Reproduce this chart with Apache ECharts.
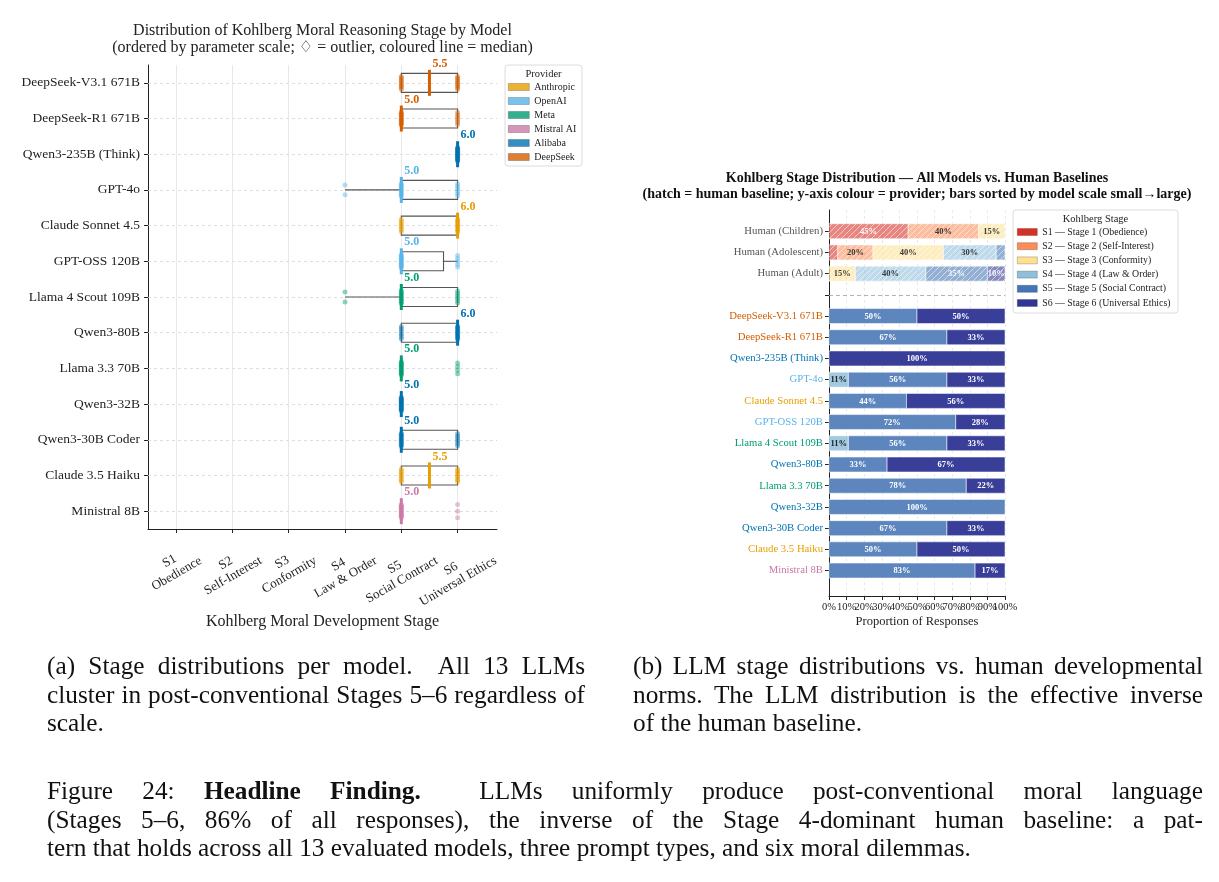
<!DOCTYPE html>
<html>
<head>
<meta charset="utf-8">
<script src="https://cdn.jsdelivr.net/npm/echarts@6/dist/echarts.min.js"></script>
<style>
html,body{margin:0;padding:0;background:#fff;}
#chart{position:absolute;left:0;top:0;width:1219px;height:882px;}
.cap{position:absolute;font-family:"Liberation Serif","Times New Roman",serif;font-size:25.3px;line-height:28.5px;color:#111;}
.cap div{text-align:justify;text-align-last:justify;white-space:nowrap;}
.cap div.last{text-align:left;text-align-last:left;}
</style>
</head>
<body>
<div id="chart"></div>
<div class="cap" style="left:47px;top:651px;width:538px;">
  <div>(a) Stage distributions per model.&nbsp; All 13 LLMs</div>
  <div>cluster in post-conventional Stages 5–6 regardless of</div>
  <div class="last">scale.</div>
</div>
<div class="cap" style="left:633px;top:651px;width:570px;">
  <div>(b) LLM stage distributions vs. human developmental</div>
  <div>norms. The LLM distribution is the effective inverse</div>
  <div class="last">of the human baseline.</div>
</div>
<div class="cap" style="left:47px;top:776px;width:1156px;">
  <div>Figure 24: <b>Headline Finding.</b>&nbsp; LLMs uniformly produce post-conventional moral language</div>
  <div>(Stages 5–6, 86% of all responses), the inverse of the Stage 4-dominant human baseline: a pat-</div>
  <div class="last">tern that holds across all 13 evaluated models, three prompt types, and six moral dilemmas.</div>
</div>
<script>
const FONT = '"Liberation Serif","Times New Roman","DejaVu Serif",serif';

// ---------- data ----------
const models = ['DeepSeek-V3.1 671B','DeepSeek-R1 671B','Qwen3-235B (Think)','GPT-4o','Claude Sonnet 4.5','GPT-OSS 120B','Llama 4 Scout 109B','Qwen3-80B','Llama 3.3 70B','Qwen3-32B','Qwen3-30B Coder','Claude 3.5 Haiku','Ministral 8B'];
const modelProvider = ['DeepSeek','DeepSeek','Alibaba','OpenAI','Anthropic','OpenAI','Meta','Alibaba','Meta','Alibaba','Alibaba','Anthropic','Mistral AI'];
const providerNames = ['Anthropic','OpenAI','Meta','Mistral AI','Alibaba','DeepSeek'];
const providerColors = ['#E69F00','#56B4E9','#009E73','#CC79A7','#0072B2','#D55E00'];

const stageTicks = [1,2,3,4,5,6];
const stageTickLabels = ['S1\nObedience','S2\nSelf-Interest','S3\nConformity','S4\nLaw & Order','S5\nSocial Contract','S6\nUniversal Ethics'];
const pctTicks = [0,10,20,30,40,50,60,70,80,90,100];

// box-plot statistics per model (stage units)
const boxLow    = [5,5,6,4,5,5,4,5,5,5,5,5,5];
const boxQ1     = [5,5,6,5,5,5,5,5,5,5,5,5,5];
const boxMedian = [5.5,5,6,5,6,5,5,6,5,5,5,5.5,5];
const boxQ3     = [6,6,6,6,6,5.75,6,6,5,5,6,6,5];
const boxHigh   = [6,6,6,6,6,6,6,6,5,5,6,6,5];
const responsesPerModel = 18;

// stage shares (%) per model
const modelS4 = [0,0,0,11,0,0,11,0,0,0,0,0,0];
const modelS5 = [50,67,0,56,44,72,56,33,78,100,67,50,83];
const modelS6 = [50,33,100,33,56,28,33,67,22,0,33,50,17];

// human baselines (%)
const humanRows = ['Human (Children)','Human (Adolescent)','Human (Adult)'];
const humanS1 = [45,5,0];
const humanS2 = [40,20,0];
const humanS3 = [15,40,15];
const humanS4 = [0,30,40];
const humanS5 = [0,5,35];
const humanS6 = [0,0,10];

const stageNames = ['S1 — Stage 1 (Obedience)','S2 — Stage 2 (Self-Interest)','S3 — Stage 3 (Conformity)','S4 — Stage 4 (Law & Order)','S5 — Stage 5 (Social Contract)','S6 — Stage 6 (Universal Ethics)'];
const stageColors = ['#d73027','#fc8d59','#fee090','#91bfdb','#4575b4','#313695'];

// ---------- layout ----------
const GL = {left:148, top:65, width:349, height:464};
const GR = {left:829, top:210, width:176, height:386};

const provColor = p => providerColors[providerNames.indexOf(p)];

// right chart rows
const rowNames = humanRows.concat([''], models);
const rowColors = humanRows.map(() => '#555').concat(['#555'], modelProvider.map(provColor));
const rowIdx = rowNames.map((_, i) => i);

function hexA(hex, a){
  const n = parseInt(hex.slice(1),16);
  return 'rgba(' + (n>>16) + ',' + ((n>>8)&255) + ',' + (n&255) + ',' + a + ')';
}
function makeHatch(color){
  const c = document.createElement('canvas'); c.width = 6; c.height = 6;
  const ctx = c.getContext('2d');
  ctx.globalAlpha = 0.58; ctx.fillStyle = color; ctx.fillRect(0,0,6,6);
  ctx.globalAlpha = 0.55; ctx.strokeStyle = '#fff'; ctx.lineWidth = 1;
  ctx.beginPath();
  ctx.moveTo(0,6); ctx.lineTo(6,0);
  ctx.moveTo(-1,1); ctx.lineTo(1,-1);
  ctx.moveTo(5,7); ctx.lineTo(7,5);
  ctx.stroke();
  return {image:c, repeat:'repeat'};
}
const hatchFill = stageColors.map(makeHatch);
const modelAlpha = [0.88,0.88,0.88,0.85,0.88,0.96];
const modelFill = stageColors.map((c, s) => hexA(c, modelAlpha[s]));

// stage tables: [stage][row]
const humanStages = [humanS1,humanS2,humanS3,humanS4,humanS5,humanS6];
const zeros = models.map(() => 0);
const modelStages = [zeros,zeros,zeros,modelS4,modelS5,modelS6];

function stageData(s){
  const out = [];
  rowNames.forEach((name, r) => {
    if (r === 3) return;
    const human = r < 3;
    const tbl = human ? humanStages : modelStages;
    const idx = human ? r : r - 4;
    let start = 0;
    for (let k = 0; k < s; k++) start += tbl[k][idx];
    const v = tbl[s][idx];
    if (v > 0) out.push([start, start + v, r, v, human ? 1 : 0]);
  });
  return out;
}
function labelColor(s, human){
  if (s === 1 || s === 2 || s === 3) return human ? 'rgba(40,40,40,0.9)' : '#222';
  return human ? 'rgba(255,255,255,0.92)' : '#fff';
}
function stageRender(s){
  return function(params, api){
    const start = api.value(0), end = api.value(1), row = api.value(2), pct = api.value(3), human = api.value(4);
    const a = api.coord([start, row]), b = api.coord([end, row]);
    const h = 15;
    const children = [{type:'rect', shape:{x:a[0], y:a[1]-h/2, width:b[0]-a[0], height:h},
      style:{fill: human ? hatchFill[s] : modelFill[s], stroke:'rgba(255,255,255,0.9)', lineWidth:0.6}}];
    if (pct >= 10) children.push({type:'text', x:(a[0]+b[0])/2, y:a[1]+0.5,
      style:{text: pct + '%', align:'center', verticalAlign:'middle', font:'bold 8.5px ' + FONT, fill: labelColor(s, human)}});
    return {type:'group', children};
  };
}

// left: dots
const dotData = [];
models.forEach((m, i) => {
  const col = provColor(modelProvider[i]);
  [[4, modelS4[i]], [5, modelS5[i]], [6, modelS6[i]]].forEach(([st, pct]) => {
    const n = Math.round(pct * responsesPerModel / 100);
    for (let k = 0; k < n; k++) {
      const off = n === 1 ? 0 : (-0.5 + (k + 0.5) / n) * (n < 4 ? 0.55 : 0.4);
      dotData.push({value:[st, i + off], itemStyle:{color: col, opacity:0.45}});
    }
  });
});

const boxData = models.map((m, i) => [i, boxLow[i], boxQ1[i], boxMedian[i], boxQ3[i], boxHigh[i]]);
const medData = models.map((m, i) => [i, boxMedian[i]]);

function boxRender(params, api){
  const i = api.value(0), low = api.value(1), q1 = api.value(2), q3 = api.value(4), high = api.value(5);
  const yc = api.coord([q1, i])[1];
  const X = v => api.coord([v, i])[0];
  const st = {stroke:'#555', lineWidth:1.1, fill:null};
  const ch = [];
  if (low < q1) ch.push({type:'line', shape:{x1:X(low), y1:yc, x2:X(q1), y2:yc}, style:st});
  if (high > q3) ch.push({type:'line', shape:{x1:X(q3), y1:yc, x2:X(high), y2:yc}, style:st});
  if (q3 > q1) ch.push({type:'rect', shape:{x:X(q1), y:yc-9.5, width:X(q3)-X(q1), height:19}, style:{stroke:'#555', lineWidth:1.1, fill:'rgba(255,255,255,0)'}});
  return {type:'group', children:ch};
}
function medRender(params, api){
  const i = api.value(0), med = api.value(1);
  const col = provColor(modelProvider[i]);
  const c = api.coord([med, i]);
  return {type:'group', children:[
    {type:'line', shape:{x1:c[0], y1:c[1]-13, x2:c[0], y2:c[1]+13}, style:{stroke:col, lineWidth:3}},
    {type:'text', x:c[0]+3, y:c[1]-19, style:{text: med.toFixed(1), align:'left', verticalAlign:'middle', font:'bold 12px ' + FONT, fill:col}}
  ]};
}

const axisLineStyle = {show:true, onZero:false, lineStyle:{color:'#222', width:1}};
const tickStyle = {color:'#222', width:1};

const series = [];
providerNames.forEach((p, k) => series.push({type:'scatter', name:p, data:[], xAxisIndex:0, yAxisIndex:1, itemStyle:{color:providerColors[k]}}));
series.push({
  type:'custom', name:'boxes', xAxisIndex:0, yAxisIndex:1, z:2, silent:true, data:boxData, renderItem:boxRender,
  markLine:{silent:true, z:1, symbol:['none','none'], label:{show:false}, animation:false,
    data: models.map((m, i) => ({yAxis:i, lineStyle:{type:[3,3], color:'#d6d6d6', width:0.8}}))
      .concat(stageTicks.map(s => ({xAxis:s, lineStyle:{type:'solid', color:'#e2e2e2', width:0.8}})))}
});
series.push({type:'scatter', name:'dots', xAxisIndex:0, yAxisIndex:1, z:3, silent:true, symbolSize:5, data:dotData});
series.push({type:'custom', name:'medians', xAxisIndex:0, yAxisIndex:1, z:4, silent:true, data:medData, renderItem:medRender});
stageNames.forEach((nm, s) => {
  const sr = {type:'custom', name:nm, xAxisIndex:1, yAxisIndex:2, z:2, silent:true, itemStyle:{color:stageColors[s]},
    data:stageData(s), renderItem:stageRender(s)};
  if (s === 0) sr.markLine = {silent:true, z:1, symbol:['none','none'], label:{show:false}, animation:false,
    data:[{yAxis:3, lineStyle:{type:[4,3], color:'#aaa', width:0.9}}]};
  series.push(sr);
});

const graphicBase = [
  {type:'text', x:GL.left + GL.width/2, y:31, style:{text:'Distribution of Kohlberg Moral Reasoning Stage by Model', align:'center', verticalAlign:'middle', font:'16px ' + FONT, fill:'#222'}},
  {type:'text', x:GL.left + GL.width/2, y:48, style:{text:'(ordered by parameter scale; \u2662 = outlier, coloured line = median)', align:'center', verticalAlign:'middle', font:'16px ' + FONT, fill:'#222'}},
  {type:'text', x:GR.left + GR.width/2, y:178, style:{text:'Kohlberg Stage Distribution — All Models vs. Human Baselines', align:'center', verticalAlign:'middle', font:'bold 14px ' + FONT, fill:'#111'}},
  {type:'text', x:GR.left + GR.width/2, y:194, style:{text:'(hatch = human baseline; y-axis colour = provider; bars sorted by model scale small\u2192large)', align:'center', verticalAlign:'middle', font:'bold 14px ' + FONT, fill:'#111'}},
  {type:'rect', z:0, shape:{x:505, y:65, width:77, height:101, r:3}, style:{fill:'#fff', stroke:'#dcdcdc', lineWidth:1}},
  {type:'text', x:543.5, y:74, style:{text:'Provider', align:'center', verticalAlign:'middle', font:'10.5px ' + FONT, fill:'#222'}},
  {type:'rect', z:0, shape:{x:1013, y:210, width:165, height:103, r:3}, style:{fill:'#fff', stroke:'#dcdcdc', lineWidth:1}},
  {type:'text', x:1095.5, y:219, style:{text:'Kohlberg Stage', align:'center', verticalAlign:'middle', font:'10.5px ' + FONT, fill:'#222'}}
];

const option = {
  animation:false,
  backgroundColor:'#fff',
  grid:[
    Object.assign({outerBoundsMode:'none', containLabel:false}, GL),
    Object.assign({outerBoundsMode:'none', containLabel:false}, GR)
  ],
  xAxis:[
    {gridIndex:0, type:'value', min:0.5, max:6.7, axisLine:axisLineStyle,
     axisTick:{show:true, customValues:stageTicks, length:4, lineStyle:tickStyle},
     axisLabel:{show:false, customValues:stageTicks}, splitLine:{show:false},
     name:'Kohlberg Moral Development Stage', nameLocation:'middle', nameGap:85,
     nameTextStyle:{fontFamily:FONT, fontSize:16, color:'#222'}},
    {gridIndex:1, type:'value', min:0, max:100, interval:10, axisLine:axisLineStyle,
     axisTick:{show:true, length:4, lineStyle:tickStyle},
     axisLabel:{show:false},
     splitLine:{show:true, lineStyle:{type:[3,3], color:'#e4e4e4', width:0.8}},
     name:'Proportion of Responses', nameLocation:'middle', nameGap:19, nameMoveOverlap:false,
     nameTextStyle:{fontFamily:FONT, fontSize:12.5, color:'#222'}}
  ],
  yAxis:[
    {gridIndex:0, type:'category', data:models, inverse:true, axisLine:axisLineStyle,
     axisTick:{show:true, alignWithLabel:true, length:4, lineStyle:tickStyle},
     axisLabel:{fontFamily:FONT, fontSize:13.5, color:'#222', margin:8}, splitLine:{show:false}},
    {gridIndex:0, type:'value', min:-0.5, max:12.5, inverse:true, show:false},
    {gridIndex:1, type:'value', min:-1, max:17.2, inverse:true, axisLine:axisLineStyle,
     axisTick:{show:true, customValues:rowIdx, length:4, lineStyle:tickStyle},
     axisLabel:{customValues:rowIdx, formatter: v => rowNames[Math.round(v)] || '',
       color: v => rowColors[Math.round(+v)] || '#555', fontFamily:FONT, fontSize:10.7, margin:6},
     splitLine:{show:false}}
  ],
  legend:[
    {data:providerNames, orient:'vertical', left:508, top:82, itemWidth:21, itemHeight:7, itemGap:4, icon:'rect', padding:0,
     selectedMode:false, textStyle:{fontFamily:FONT, fontSize:10, color:'#222', lineHeight:10},
     itemStyle:{borderColor:'rgba(0,0,0,0.45)', borderWidth:0.6}},
    {data:stageNames, orient:'vertical', left:1017, top:227, itemWidth:20, itemHeight:7, itemGap:4.2, icon:'rect', padding:0,
     selectedMode:false, textStyle:{fontFamily:FONT, fontSize:9.8, color:'#222', lineHeight:10},
     itemStyle:{borderColor:'rgba(0,0,0,0.35)', borderWidth:0.6}}
  ],
  graphic:{elements:graphicBase},
  series:series
};

const chart = echarts.init(document.getElementById('chart'), null, {renderer:'canvas'});
chart.setOption(option);

// rotated x tick labels of the left chart (centred under ticks, matplotlib style)
const mctx = document.createElement('canvas').getContext('2d');
const tickFont = '13px ' + FONT;
mctx.font = tickFont;
const lh = 14.5, ang = Math.PI / 6;
const tickTexts = stageTicks.map((s, k) => {
  const lines = stageTickLabels[k].split('\n');
  const w = Math.max.apply(null, lines.map(t => mctx.measureText(t).width));
  const h = lines.length * lh;
  const bh = w * Math.sin(ang) + h * Math.cos(ang);
  const px = chart.convertToPixel({xAxisIndex:0}, s);
  return {type:'text', x:px - 3, y:GL.top + GL.height + 12 + bh / 2, rotation:ang,
    style:{text:stageTickLabels[k], align:'center', verticalAlign:'middle', font:tickFont, lineHeight:lh, fill:'#222'}};
});
// percentage tick labels of the right chart (all shown, even where they touch)
const pctTexts = pctTicks.map(v => ({type:'text', x:chart.convertToPixel({xAxisIndex:1}, v), y:GR.top + GR.height + 11,
  style:{text: v + '%', align:'center', verticalAlign:'middle', font:'10.5px ' + FONT, fill:'#222'}}));
chart.setOption({graphic:{elements:graphicBase.concat(tickTexts, pctTexts)}});
</script>
</body>
</html>
